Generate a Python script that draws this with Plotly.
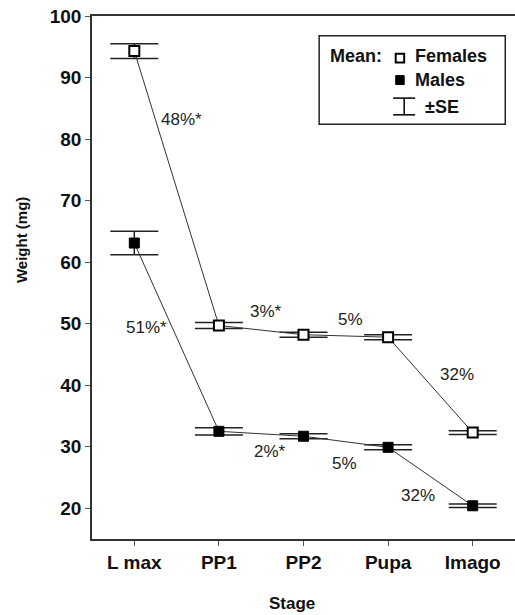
import plotly.graph_objects as go

stages = ["L max", "PP1", "PP2", "Pupa", "Imago"]
females = [94.3, 49.7, 48.2, 47.8, 32.3]
females_se = [1.2, 0.5, 0.4, 0.4, 0.3]
males = [63.1, 32.5, 31.7, 29.9, 20.4]
males_se = [1.9, 0.6, 0.4, 0.4, 0.3]

# percentage labels: (x position in category units, y value, text)
fem_pct_x = [0.555, 1.56, 2.55, 3.81]
fem_pct_y = [83.1, 51.9, 50.6, 41.7]
fem_pct_txt = ["48%*", "3%*", "5%", "32%"]
male_pct_x = [0.14, 1.60, 2.49, 3.35]
male_pct_y = [49.3, 29.3, 27.35, 22.0]
male_pct_txt = ["51%*", "2%*", "5%", "32%"]

xi = list(range(len(stages)))
line_col = "#333333"

fig = go.Figure()
fig.add_trace(go.Scatter(
    x=xi, y=females, mode="lines+markers",
    line=dict(color=line_col, width=1),
    marker=dict(symbol="square", size=10, color="white", line=dict(color="black", width=2)),
    error_y=dict(type="data", array=females_se, color="#222222", thickness=1.5, width=24),
    showlegend=False))
fig.add_trace(go.Scatter(
    x=xi, y=males, mode="lines+markers",
    line=dict(color=line_col, width=1),
    marker=dict(symbol="square", size=10, color="black", line=dict(color="black", width=1)),
    error_y=dict(type="data", array=males_se, color="#222222", thickness=1.5, width=24),
    showlegend=False))

ann_font = dict(family="Liberation Sans Narrow, Liberation Sans, Arial", size=17, color="#222222")
for x, y, t in zip(fem_pct_x + male_pct_x, fem_pct_y + male_pct_y, fem_pct_txt + male_pct_txt):
    fig.add_annotation(x=x, y=y, text=t, showarrow=False, font=ann_font, xref="x", yref="y")

# Legend (manual)
fig.add_shape(type="rect", xref="paper", yref="paper", x0=0.537, x1=0.977, y0=0.793, y1=0.962,
              line=dict(color="#222222", width=1.5), fillcolor="white")
lf = dict(family="Liberation Sans, Arial", size=18, color="#111111")
fig.add_annotation(xref="paper", yref="paper", x=0.559, y=0.9235, text="<b>Mean:</b>", showarrow=False,
                   xanchor="left", yanchor="middle", font=lf)
fig.add_shape(type="rect", xref="paper", yref="paper", x0=0.718, x1=0.738, y0=0.911, y1=0.928,
              line=dict(color="black", width=2), fillcolor="white")
fig.add_annotation(xref="paper", yref="paper", x=0.760, y=0.9235, text="<b>Females</b>", showarrow=False,
                   xanchor="left", yanchor="middle", font=lf)
fig.add_shape(type="rect", xref="paper", yref="paper", x0=0.718, x1=0.738, y0=0.869, y1=0.886,
              line=dict(color="black", width=1), fillcolor="black")
fig.add_annotation(xref="paper", yref="paper", x=0.760, y=0.8776, text="<b>Males</b>", showarrow=False,
                   xanchor="left", yanchor="middle", font=lf)
fig.add_shape(type="line", xref="paper", yref="paper", x0=0.712, x1=0.764, y0=0.843, y1=0.843,
              line=dict(color="black", width=1.5))
fig.add_shape(type="line", xref="paper", yref="paper", x0=0.712, x1=0.764, y0=0.811, y1=0.811,
              line=dict(color="black", width=1.5))
fig.add_shape(type="line", xref="paper", yref="paper", x0=0.738, x1=0.738, y0=0.811, y1=0.843,
              line=dict(color="black", width=1.5))
fig.add_annotation(xref="paper", yref="paper", x=0.783, y=0.826, text="<b>±SE</b>", showarrow=False,
                   xanchor="left", yanchor="middle", font=lf)

tick_font = dict(family="Liberation Sans, Arial", size=19, color="#111111")
fig.update_xaxes(
    range=[-0.5, 4.5], tickmode="array", tickvals=xi, ticktext=["<b>%s</b>" % s for s in stages],
    showline=True, linecolor="#333333", linewidth=1.5, mirror=True,
    ticks="outside", ticklen=5, tickcolor="#555555", tickfont=tick_font,
    showgrid=False, zeroline=False, automargin=False, ticklabeloverflow="allow")
fig.update_yaxes(
    range=[15, 100], tickmode="array", tickvals=[20, 30, 40, 50, 60, 70, 80, 90, 100],
    ticktext=["<b>%d</b>" % v for v in [20, 30, 40, 50, 60, 70, 80, 90, 100]],
    showline=True, linecolor="#333333", linewidth=1.5,
    ticks="outside", ticklen=5, tickcolor="#555555", tickfont=tick_font,
    showgrid=False, zeroline=False, automargin=False, ticklabeloverflow="allow")

title_font = dict(family="Liberation Sans, Arial", size=15, color="#111111")
fig.add_annotation(xref="paper", yref="paper", x=-0.165, y=0.572, text="<b>Weight (mg)</b>",
                   textangle=-90, showarrow=False, font=title_font, xanchor="center", yanchor="middle")
fig.add_annotation(xref="paper", yref="paper", x=0.473, y=-0.124, text="<b>Stage</b>",
                   showarrow=False, font=dict(family="Liberation Sans, Arial", size=17, color="#111111"),
                   xanchor="center", yanchor="middle")

fig.update_layout(
    width=515, height=615,
    margin=dict(l=92, r=0, t=16, b=76),
    plot_bgcolor="white", paper_bgcolor="white",
)
fig.write_html("out.html", config={"displayModeBar": False},
               post_script="document.body.style.margin='0';document.body.style.overflow='hidden';")
